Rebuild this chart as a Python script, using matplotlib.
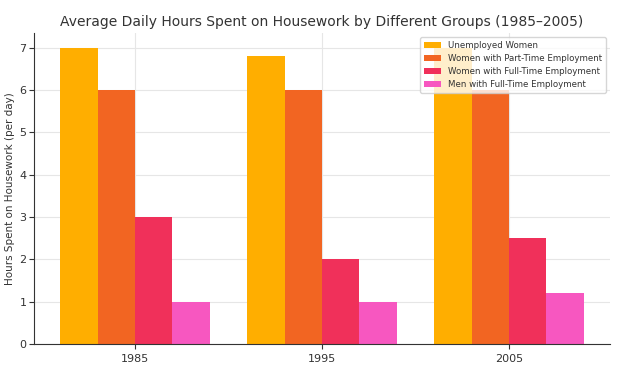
import matplotlib
matplotlib.use("Agg")
import matplotlib.pyplot as plt
import numpy as np

years = ["1985", "1995", "2005"]
series_names = [
    "Unemployed Women",
    "Women with Part-Time Employment",
    "Women with Full-Time Employment",
    "Men with Full-Time Employment",
]
unemployed_women = [7.0, 6.8, 7.0]
part_time_women = [6.0, 6.0, 6.0]
full_time_women = [3.0, 2.0, 2.5]
full_time_men = [1.0, 1.0, 1.2]
colors = ["#FFAE00", "#F26522", "#F0305A", "#F757C0"]

series = [unemployed_women, part_time_women, full_time_women, full_time_men]

fig = plt.figure(figsize=(6.2, 3.65), dpi=100)
ax = fig.add_axes([0.055, 0.0575, 0.929, 0.852])

x = np.arange(len(years))
w = 0.2
for i, (vals, name, c) in enumerate(zip(series, series_names, colors)):
    ax.bar(x + (i - 1.5) * w, vals, width=w, color=c, label=name, zorder=2)

ax.set_xticks(x)
ax.set_xticklabels(years)
ax.set_title("Average Daily Hours Spent on Housework by Different Groups (1985\u20132005)",
             fontsize=10, color="#333333", pad=5)
ax.set_ylabel("Hours Spent on Housework (per day)", fontsize=7.5, color="#333333", labelpad=3)
ax.set_xlabel("Year", fontsize=8, color="#333333", labelpad=2)
ax.tick_params(labelsize=8, colors="#333333")
ax.tick_params(axis="y", pad=2)
ax.grid(True, color="#e6e6e6", linewidth=0.8, zorder=0)
ax.set_axisbelow(True)
for s in ["top", "right"]:
    ax.spines[s].set_visible(False)
for s in ["left", "bottom"]:
    ax.spines[s].set_color("#333333")
ax.legend(loc="upper right", fontsize=6.2, framealpha=0.8, labelcolor="#333333",
          handlelength=2.0, borderpad=0.45, labelspacing=0.45)

fig.savefig("out.png", dpi=100)
